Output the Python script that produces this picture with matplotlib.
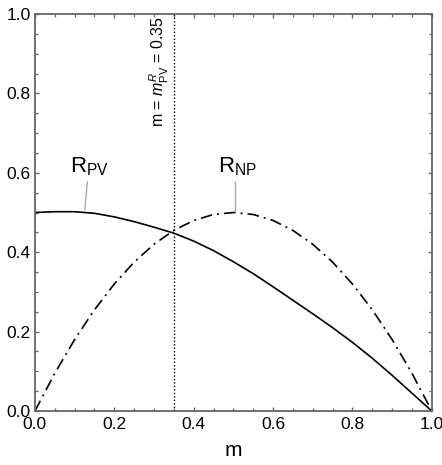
import matplotlib
matplotlib.use("Agg")
import matplotlib.pyplot as plt
from matplotlib.ticker import MultipleLocator

plt.rcParams['font.family'] = ['Liberation Sans', 'DejaVu Sans']
plt.rcParams['mathtext.fontset'] = 'custom'
plt.rcParams['mathtext.rm'] = 'Liberation Sans'
plt.rcParams['mathtext.it'] = 'Liberation Sans:italic'

# values, m in steps of 0.05
m = [0.0, 0.05, 0.1, 0.15, 0.2, 0.25, 0.3, 0.35, 0.4, 0.45, 0.5,
     0.55, 0.6, 0.65, 0.7, 0.75, 0.8, 0.85, 0.9, 0.95, 1.0]
r_pv = [0.500, 0.502, 0.502, 0.498, 0.489, 0.477, 0.463, 0.448, 0.428, 0.404, 0.376,
        0.346, 0.313, 0.279, 0.245, 0.210, 0.173, 0.133, 0.090, 0.045, 0.0]
r_np = [0.0, 0.095, 0.180, 0.255, 0.320, 0.375, 0.420, 0.455, 0.480, 0.495, 0.500,
        0.495, 0.480, 0.455, 0.420, 0.375, 0.320, 0.255, 0.180, 0.095, 0.0]
m_cross = 0.35

fig = plt.figure(figsize=(4.42, 4.65), dpi=100)
ax = fig.add_axes([0.079, 0.116, 0.898, 0.854])

ax.plot(m, r_pv, color='black', lw=1.2)
ax.plot(m, r_np, color='black', lw=1.2, dashes=(7, 3, 1.2, 3))
ax.axvline(m_cross, color='black', lw=1.0, ls=(0, (1, 1.5)))

ax.set_xlim(0, 1)
ax.set_ylim(0, 1)
ax.xaxis.set_major_locator(MultipleLocator(0.2))
ax.yaxis.set_major_locator(MultipleLocator(0.2))
ax.xaxis.set_minor_locator(MultipleLocator(0.05))
ax.yaxis.set_minor_locator(MultipleLocator(0.05))
ax.tick_params(which='both', direction='in', top=True, right=True, color='#666666')
ax.tick_params(which='major', length=3.2, width=1.0, labelsize=12.5, pad=3)
ax.tick_params(which='minor', length=2.4, width=0.9)
ax.tick_params(axis='x', pad=4)
for s in ax.spines.values():
    s.set_color('#666666')
    s.set_linewidth(1.3)

ax.set_xlabel('m', fontsize=15, labelpad=7)

ax.text(0.088, 0.601, r'R$_{\mathrm{PV}}$', fontsize=16, ha='left', va='baseline')
ax.text(0.461, 0.601, r'R$_{\mathrm{NP}}$', fontsize=16, ha='left', va='baseline')
ax.plot([0.132, 0.126], [0.577, 0.507], color='#aaaaaa', lw=1.0)
ax.plot([0.504, 0.504], [0.578, 0.503], color='#aaaaaa', lw=1.0)

ax.text(0.344, 0.995, r'm = $m_{\mathrm{PV}}^{R}$ = 0.35', rotation=90,
        fontsize=11.5, ha='right', va='top')

fig.savefig('out.png', dpi=100)
